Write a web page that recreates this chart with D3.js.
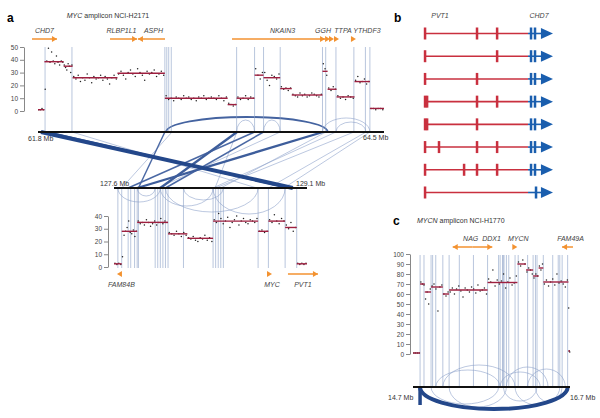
<!DOCTYPE html>
<html>
<head>
<meta charset="utf-8">
<script src="https://cdn.jsdelivr.net/npm/d3@7"></script>
<style>
  body { margin: 0; background: #fff; }
  svg { font-family: "Liberation Sans", Arial, sans-serif; }
  .gene { font-style: italic; font-size: 7px; fill: #444; }
  .mb { font-size: 7px; fill: #333; }
  .tick text { font-size: 6.5px; fill: #444; }
</style>
</head>
<body>
<div id="chart"></div>
<script>
// ---------- panel a, upper amplicon (chr8, 61.8 - 64.5 Mb) ----------
var topSegs = [
  [61.80, 61.85, 1], [61.85, 62.00, 38.5], [62.00, 62.07, 35], [62.07, 62.42, 26],
  [62.42, 62.79, 29.5], [62.79, 63.28, 10], [63.28, 63.35, 5], [63.35, 63.49, 10],
  [63.49, 63.56, 28], [63.56, 63.69, 26], [63.69, 63.78, 17.5], [63.78, 64.02, 12.5],
  [64.02, 64.06, 31], [64.06, 64.13, 17], [64.13, 64.27, 11], [64.27, 64.39, 23],
  [64.39, 64.50, 2]
];
var topDots = [
  [1, 1, 2, 1],
  [17, 39, 49, 38, 46, 39, 37, 43, 38, 36, 39, 38],
  [36, 34, 32, 37, 35, 30, 36],
  [27, 25, 28, 23, 26, 24, 29, 26, 22, 27, 25, 26, 28, 24, 27, 25, 21, 26, 28, 25],
  [29, 31, 28, 25, 30, 32, 29, 27, 33, 30, 28, 24, 31, 29, 30, 32, 27, 29, 31, 28],
  [12, 9, 10, 8, 11, 10, 9, 12, 10, 11, 9, 10, 8, 11, 10, 12, 9, 10, 11, 10, 9, 12, 10, 8, 11],
  [6, 5, 4, 5],
  [11, 9, 10, 12, 9, 11, 10],
  [33, 28, 25, 30],
  [30, 24, 20, 28, 27, 25, 29],
  [19, 17, 18, 16, 18],
  [13, 12, 11, 14, 12, 13, 11, 12, 14, 13, 12, 11, 13],
  [37, 33, 28],
  [18, 16, 19, 17],
  [12, 10, 11, 9, 12, 11, 10],
  [24, 27, 22, 23, 25, 21, 23],
  [2, 2, 1, 2, 2, 1]
];
var topBreaks = [61.855, 62.065, 62.79, 62.805, 62.82, 62.84, 63.35, 63.49, 63.56,
  63.69, 64.02, 64.045, 64.125, 64.265, 64.355, 64.39];
var topTicks = [0, 10, 20, 30, 40, 50];
var topGenes = [
  ["CHD7", 61.753, 61.948, 1], ["RLBP1L1", 62.362, 62.573, 1], ["ASPH", 62.580, 62.791, -1],
  ["NKAIN3", 63.314, 64.040, 1], ["GGH", 64.047, 64.079, 1], ["", 64.079, 64.110, 1],
  ["TTPA", 64.118, 64.149, 1], ["YTHDF3", 64.235, 64.281, 1]
];
var topArcs = [
  [62.80, 64.06, 15, 2.5], [63.35, 63.49, 12, 1], [63.56, 63.69, 12, 1],
  [64.02, 64.39, 14, 1], [64.125, 64.36, 10, 1]
];

// ---------- panel a, lower amplicon (chr8, 127.6 - 129.1 Mb) ----------
var botSegs = [
  [127.60, 127.66, 2.5], [127.66, 127.78, 28], [127.78, 128.02, 35], [128.02, 128.17, 26],
  [128.17, 128.37, 22.5], [128.37, 128.72, 36], [128.72, 128.80, 28], [128.80, 128.93, 36],
  [128.93, 129.02, 31], [129.02, 129.10, 2.5]
];
var botDots = [
  [3, 2, 3, 2],
  [8, 25, 28, 31, 36, 27, 26, 29, 24, 28],
  [36, 34, 35, 33, 37, 35, 32, 34, 36, 33, 35, 38, 34, 36, 35],
  [27, 26, 25, 28, 26, 24, 27, 25],
  [23, 22, 24, 21, 20, 23, 22, 25, 21, 23, 20],
  [37, 35, 42, 38, 34, 36, 39, 31, 35, 37, 40, 33, 36, 38, 35, 34, 37, 36, 35, 38],
  [28, 29, 27, 28],
  [37, 35, 41, 36, 34, 38, 36],
  [33, 30, 35, 28, 31],
  [3, 2, 3, 2, 3]
];
var botBreaks = [127.63, 127.66, 127.71, 127.73, 127.76, 127.78, 127.79, 127.92, 127.94,
  127.96, 127.98, 128.0, 128.02, 128.14, 128.37, 128.39, 128.41, 128.43, 128.45, 128.72,
  128.80, 128.93, 129.02];
var botTicks = [0, 10, 20, 30, 40];
var botGenes = [
  ["FAM84B", 127.623, 127.662, -1], ["MYC", 128.797, 128.828, 1], ["PVT1", 128.952, 129.185, 1]
];
var botArcs = [
  [127.63, 127.96, -14, 1], [127.78, 127.92, -8, 1], [127.96, 128.37, -18, 1],
  [128.0, 128.72, -24, 1], [128.37, 128.93, -26, 1], [128.14, 128.45, -12, 1]
];
// links between the two amplicon segments: [upper Mb, lower Mb, support]
var crossLinks = [
  [61.823, 128.99, 5], [61.870, 128.96, 3], [62.065, 128.71, 1], [62.790, 127.79, 2],
  [62.846, 127.66, 1], [63.353, 127.96, 3], [63.353, 128.385, 1], [63.490, 127.71, 2],
  [63.560, 128.00, 2], [64.024, 127.78, 3], [64.047, 128.43, 1], [64.125, 128.37, 1],
  [64.266, 128.39, 1], [64.360, 128.80, 1], [64.390, 128.92, 1], [63.690, 127.94, 1]
];

// ---------- panel b, PVT1-CHD7 fusion transcripts ----------
var pvt1Exons = [
  [0, 40.6, 56.3], [0, 56.3], [0, 40.6], [0, 1.6, 40.6, 56.3],
  [0, 1.6, 40.6], [0, 10.9, 40.6, 56.3], [0, 30.5, 40.6, 56.3], [0]
];
var chd7Exons = [
  [82.8, 85.9], [82.8, 85.9], [82.8, 85.9], [82.8, 85.9],
  [82.8, 85.9], [82.8, 85.9], [82.8, 85.9], [86.7]
];

// ---------- panel c, MYCN amplicon (chr2, 14.7 - 16.7 Mb) ----------
var cSegs = [
  [14.70, 14.79, 1], [14.79, 14.85, 70], [14.85, 14.93, 62], [14.93, 15.08, 67],
  [15.08, 15.16, 60], [15.16, 15.65, 64], [15.65, 16.03, 71.5], [16.03, 16.14, 90],
  [16.14, 16.23, 84], [16.23, 16.30, 78], [16.30, 16.36, 86], [16.36, 16.68, 72],
  [16.68, 16.70, 3]
];
var cDots = [
  [1, 1, 1, 1],
  [72, 70, 69],
  [55, 62, 50, 65],
  [68, 70, 65, 43, 67, 69],
  [60, 58, 62],
  [62, 66, 60, 65, 68, 63, 57, 66, 64, 62, 67, 65, 61, 69, 63, 64, 66, 60],
  [75, 72, 84, 68, 74, 70, 73, 80, 66, 72, 76, 69, 71, 78],
  [92, 88, 94, 90],
  [82, 86, 84, 80],
  [76, 80, 78],
  [88, 84, 90],
  [70, 74, 68, 72, 75, 69, 80, 71, 73, 70, 67, 74],
  [46, 3, 2]
];
var cBreaks = [14.79, 14.84, 14.93, 14.95, 14.99, 15.08, 15.16, 15.29, 15.47, 15.65, 15.79,
  15.81, 15.84, 15.85, 15.86, 15.89, 15.92, 16.00, 16.04, 16.16, 16.23, 16.26, 16.28,
  16.36, 16.48, 16.55, 16.57, 16.60, 16.67];
var cTicks = [0, 10, 20, 30, 40, 50, 60, 70, 80, 90, 100];
var cGenes = [
  ["NAG", 15.206, 15.46, -1], ["DDX1", 15.46, 15.71, 1], ["MYCN", 15.978, 16.029, 1],
  ["FAM49A", 16.599, 16.738, -1]
];
var cArcs = [
  [15.08, 16.00, 22, 1], [14.99, 15.81, 17, 1], [14.93, 15.79, -17, 1], [15.16, 15.89, -20, 1],
  [15.81, 16.32, 15, 1], [15.89, 16.42, 20, 1], [16.16, 16.64, 18, 1], [15.85, 16.28, -14, 1],
  [16.26, 16.60, -15, 1], [16.00, 16.57, -18, 1], [14.79, 16.67, -22, 5]
];

// ================= drawing =================
var svg = d3.select("#chart").append("svg").attr("width", 600).attr("height", 418);

var orange = "#f39230";
var segRed = "#9e1f3f";
var bpBlue = "#8a9fc6";

var widthScale = d3.scaleLinear().domain([1, 5]).range([0.6, 4]);
var colorScale = d3.scaleLinear().domain([1, 2, 5]).range(["#8ea3cb", "#4a68a4", "#23478a"]);

function arcPath(x1, x2, y, h) {
  var rx = Math.abs(x2 - x1) / 2;
  var sweep = h > 0 ? 1 : 0;
  return "M" + x1 + "," + y + " A" + rx + "," + Math.abs(h) + " 0 0 " + sweep + " " + x2 + "," + y;
}

function drawArcs(arcs, x, y) {
  svg.append("g").selectAll("path").data(arcs).enter().append("path")
    .attr("d", function (d) { return arcPath(x(d[0]), x(d[1]), y, d[2]); })
    .attr("fill", "none")
    .attr("stroke", function (d) { return colorScale(d[3]); })
    .attr("stroke-width", function (d) { return widthScale(d[3]); });
}

function drawCN(o) {
  var g = svg.append("g");
  g.selectAll(".bp").data(o.breaks).enter().append("line")
    .attr("x1", function (d) { return o.x(d); })
    .attr("x2", function (d) { return o.x(d); })
    .attr("y1", o.lineTop).attr("y2", o.lineBottom)
    .attr("stroke", bpBlue).attr("stroke-width", 0.6);

  var pts = [];
  o.segs.forEach(function (s, i) {
    var v = o.dots[i];
    v.forEach(function (val, j) {
      pts.push({ mb: s[0] + (s[1] - s[0]) * (j + 0.5) / v.length, cn: val });
    });
  });
  g.selectAll(".dot").data(pts).enter().append("circle")
    .attr("cx", function (d) { return o.x(d.mb); })
    .attr("cy", function (d) { return o.y(d.cn); })
    .attr("r", 0.75).attr("fill", "#222");

  g.selectAll(".seg").data(o.segs).enter().append("line")
    .attr("x1", function (d) { return o.x(d[0]); })
    .attr("x2", function (d) { return o.x(d[1]); })
    .attr("y1", function (d) { return o.y(d[2]); })
    .attr("y2", function (d) { return o.y(d[2]); })
    .attr("stroke", segRed).attr("stroke-width", 1.4);

  var ax = g.append("g").attr("transform", "translate(" + o.axisX + ",0)")
    .call(d3.axisLeft(o.y).tickValues(o.ticks).tickSize(4).tickSizeOuter(0).tickPadding(2));
  ax.selectAll("path, line").attr("stroke", "#555").attr("stroke-width", 0.7);
}

function drawGenes(genes, x, y, nudge, labelY) {
  var g = svg.append("g");
  genes.forEach(function (d) {
    var x1 = x(d[1]), x2 = x(d[2]);
    var tip = d[3] > 0 ? x2 : x1;
    var dir = d[3] > 0 ? 1 : -1;
    if (Math.abs(x2 - x1) > 6) {
      g.append("line").attr("x1", x1).attr("x2", x2).attr("y1", y).attr("y2", y)
        .attr("stroke", orange).attr("stroke-width", 1.5);
    }
    g.append("path")
      .attr("d", "M" + tip + "," + y + " L" + (tip - dir * 5) + "," + (y - 3) + " L" + (tip - dir * 5) + "," + (y + 3) + "Z")
      .attr("fill", orange);
    if (d[0]) {
      g.append("text").attr("class", "gene")
        .attr("x", (x1 + x2) / 2 + (nudge[d[0]] || 0)).attr("y", labelY)
        .attr("text-anchor", "middle").text(d[0]);
    }
  });
}

// ---- panel a scales
var xTop = d3.scaleLinear().domain([61.8, 64.5]).range([38, 384]);
var yTop = d3.scaleLinear().domain([0, 50]).range([111, 47]);
var xBot = d3.scaleLinear().domain([127.6, 129.1]).range([114, 307]);
var yBot = d3.scaleLinear().domain([0, 40]).range([267, 216]);
var chromTopY = 132, chromBotY = 188;

// links between the two chromosome segments
svg.append("g").selectAll("line").data(crossLinks.slice().sort(function (a, b) { return a[2] - b[2]; }))
  .enter().append("line")
  .attr("x1", function (d) { return xTop(d[0]); }).attr("y1", chromTopY)
  .attr("x2", function (d) { return xBot(d[1]); }).attr("y2", chromBotY)
  .attr("stroke", function (d) { return colorScale(d[2]); })
  .attr("stroke-width", function (d) { return widthScale(d[2]); });

drawArcs(topArcs, xTop, chromTopY);
drawArcs(botArcs, xBot, chromBotY);

drawCN({ segs: topSegs, dots: topDots, breaks: topBreaks, ticks: topTicks, x: xTop, y: yTop,
  axisX: 24, lineTop: 47, lineBottom: chromTopY });
drawCN({ segs: botSegs, dots: botDots, breaks: botBreaks, ticks: botTicks, x: xBot, y: yBot,
  axisX: 108, lineTop: chromBotY, lineBottom: 268 });

svg.append("line").attr("x1", xTop(61.8)).attr("x2", xTop(64.5)).attr("y1", chromTopY).attr("y2", chromTopY)
  .attr("stroke", "#111").attr("stroke-width", 2.2);
svg.append("line").attr("x1", xBot(127.6)).attr("x2", xBot(129.1)).attr("y1", chromBotY).attr("y2", chromBotY)
  .attr("stroke", "#111").attr("stroke-width", 2.2);

svg.append("text").attr("class", "mb").attr("x", 28).attr("y", 141).text("61.8 Mb");
svg.append("text").attr("class", "mb").attr("x", 363).attr("y", 140).text("64.5 Mb");
svg.append("text").attr("class", "mb").attr("x", 100).attr("y", 186).text("127.6 Mb");
svg.append("text").attr("class", "mb").attr("x", 296).attr("y", 186).text("129.1 Mb");

drawGenes(topGenes, xTop, 39, { CHD7: 0, RLBP1L1: -2, ASPH: 2, NKAIN3: 4, GGH: -5, TTPA: 6, YTHDF3: 14 }, 33);
drawGenes(botGenes, xBot, 274, { FAM84B: 2, MYC: 2, PVT1: 0 }, 287);

svg.append("text").attr("x", 7).attr("y", 22).attr("font-size", 12).attr("font-weight", "bold").text("a");
var ta = svg.append("text").attr("x", 108).attr("y", 18).attr("text-anchor", "middle")
  .attr("font-size", 7).attr("fill", "#333");
ta.append("tspan").attr("font-style", "italic").text("MYC");
ta.append("tspan").text(" amplicon NCI-H2171");

// ---- panel b
var bx = d3.scaleLinear().domain([0, 100]).range([425, 553]);
var by = d3.scalePoint().domain(d3.range(pvt1Exons.length)).range([33.5, 192.5]);
var red = "#c9303f", blue = "#1a5eae";
var gb = svg.append("g");
pvt1Exons.forEach(function (row, i) {
  var y = by(i);
  gb.append("line").attr("x1", bx(0)).attr("x2", bx(80.5)).attr("y1", y).attr("y2", y)
    .attr("stroke", red).attr("stroke-width", 1.6);
  gb.append("line").attr("x1", bx(80.5)).attr("x2", bx(92)).attr("y1", y).attr("y2", y)
    .attr("stroke", blue).attr("stroke-width", 1.6);
  gb.append("path")
    .attr("d", "M" + bx(100) + "," + y + " L" + bx(90.6) + "," + (y - 5.5) + " L" + bx(90.6) + "," + (y + 5.5) + "Z")
    .attr("fill", blue);
  gb.selectAll(".pe" + i).data(row).enter().append("rect")
    .attr("x", function (d) { return bx(d) - 1.2; }).attr("y", y - 6)
    .attr("width", 2.5).attr("height", 12).attr("fill", red);
  gb.selectAll(".ce" + i).data(chd7Exons[i]).enter().append("rect")
    .attr("x", function (d) { return bx(d) - 1.2; }).attr("y", y - 6)
    .attr("width", 2.5).attr("height", 12).attr("fill", blue);
});
svg.append("text").attr("x", 394).attr("y", 22).attr("font-size", 12).attr("font-weight", "bold").text("b");
svg.append("text").attr("class", "gene").attr("x", 440).attr("y", 18).attr("text-anchor", "middle").text("PVT1");
svg.append("text").attr("class", "gene").attr("x", 539).attr("y", 18).attr("text-anchor", "middle").text("CHD7");

// ---- panel c
var xC = d3.scaleLinear().domain([14.7, 16.7]).range([413, 570]);
var yC = d3.scaleLinear().domain([0, 100]).range([354, 254]);
var chromCY = 387;

drawArcs(cArcs, xC, chromCY);
svg.append("line").attr("x1", xC(14.79)).attr("x2", xC(14.79)).attr("y1", chromCY).attr("y2", 405)
  .attr("stroke", "#23478a").attr("stroke-width", 3.5);
drawCN({ segs: cSegs, dots: cDots, breaks: cBreaks, ticks: cTicks, x: xC, y: yC,
  axisX: 410, lineTop: 255, lineBottom: chromCY });
svg.append("line").attr("x1", xC(14.7)).attr("x2", xC(16.7)).attr("y1", chromCY).attr("y2", chromCY)
  .attr("stroke", "#111").attr("stroke-width", 2.2);
svg.append("text").attr("class", "mb").attr("x", 388).attr("y", 400).text("14.7 Mb");
svg.append("text").attr("class", "mb").attr("x", 570).attr("y", 400).text("16.7 Mb");

drawGenes(cGenes, xC, 247, { NAG: 8, DDX1: 9, MYCN: 3, FAM49A: 3 }, 241);

svg.append("text").attr("x", 393).attr("y", 225).attr("font-size", 12).attr("font-weight", "bold").text("c");
var tc = svg.append("text").attr("x", 417).attr("y", 223).attr("font-size", 7).attr("fill", "#333");
tc.append("tspan").attr("font-style", "italic").text("MYCN");
tc.append("tspan").text(" amplicon NCI-H1770");
</script>
</body>
</html>
